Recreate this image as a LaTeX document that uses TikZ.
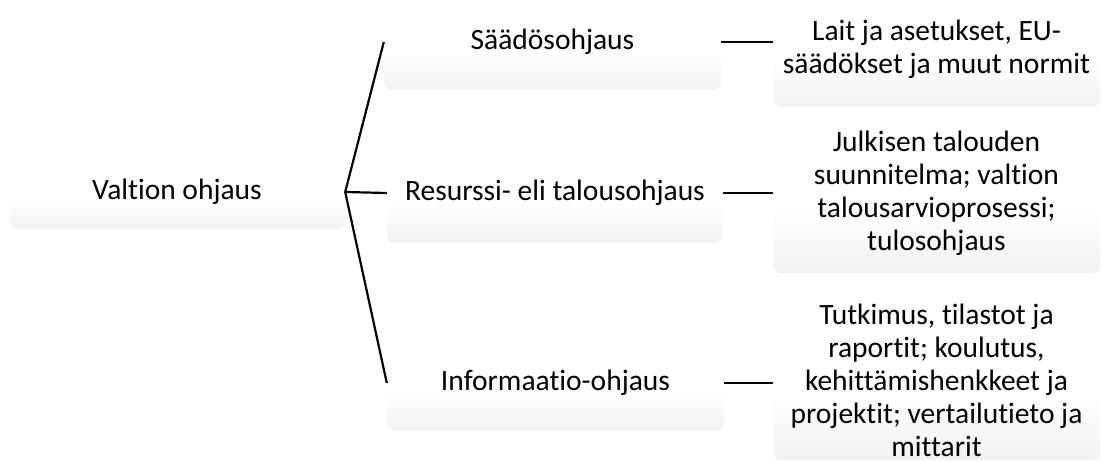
\documentclass[tikz,border=0pt]{standalone}
\usepackage{fontspec}
\setmainfont{Carlito}[RawFeature={-liga}]
\pgfdeclareverticalshading{boxshade}{100bp}{color(0bp)=(black!12); color(45bp)=(white); color(100bp)=(white)}
\tikzset{
  box/.style={shading=boxshade, rounded corners=8pt, align=center, inner sep=0pt,
    font=\fontsize{29.5}{33}\selectfont, text=black},
  link/.style={draw=black, line width=2.2pt}
}
\begin{document}
\begin{tikzpicture}[x=1pt,y=-1pt]
\useasboundingbox (0,0) rectangle (1103,462);
\clip (0,0) rectangle (1103,462);
\node[box, minimum width=336pt, minimum height=74pt] (root) at (177,192) {Valtion ohjaus};
\node[box, minimum width=337pt, minimum height=96pt] (sa) at (552.5,42) {Säädösohjaus};
\node[box, minimum width=336pt, minimum height=100pt] (re) at (555,193) {Resurssi- eli talousohjaus};
\node[box, minimum width=337pt, minimum height=96pt] (in) at (555.5,383) {Informaatio-ohjaus};
\node[box, minimum width=327pt, minimum height=116pt] (la) at (936.5,49) {Lait ja asetukset, EU-\\säädökset ja muut normit};
\node[box, minimum width=327pt, minimum height=160pt] (ju) at (936.5,193) {Julkisen talouden\\suunnitelma; valtion\\talousarvioprosessi;\\tulosohjaus};
\node[box, minimum width=327pt, minimum height=160pt] (tu) at (936.5,380) {Tutkimus, tilastot ja\\raportit; koulutus,\\kehittämishenkkeet ja\\projektit; vertailutieto ja\\mittarit};
\draw[link] (root.east) -- (sa.west);
\draw[link] (root.east) -- (re.west);
\draw[link] (root.east) -- (in.west);
\draw[link] (sa.east) -- ([yshift=7pt]la.west);
\draw[link] (re.east) -- (ju.west);
\draw[link] (in.east) -- ([yshift=-3pt]tu.west);
\end{tikzpicture}
\end{document}
